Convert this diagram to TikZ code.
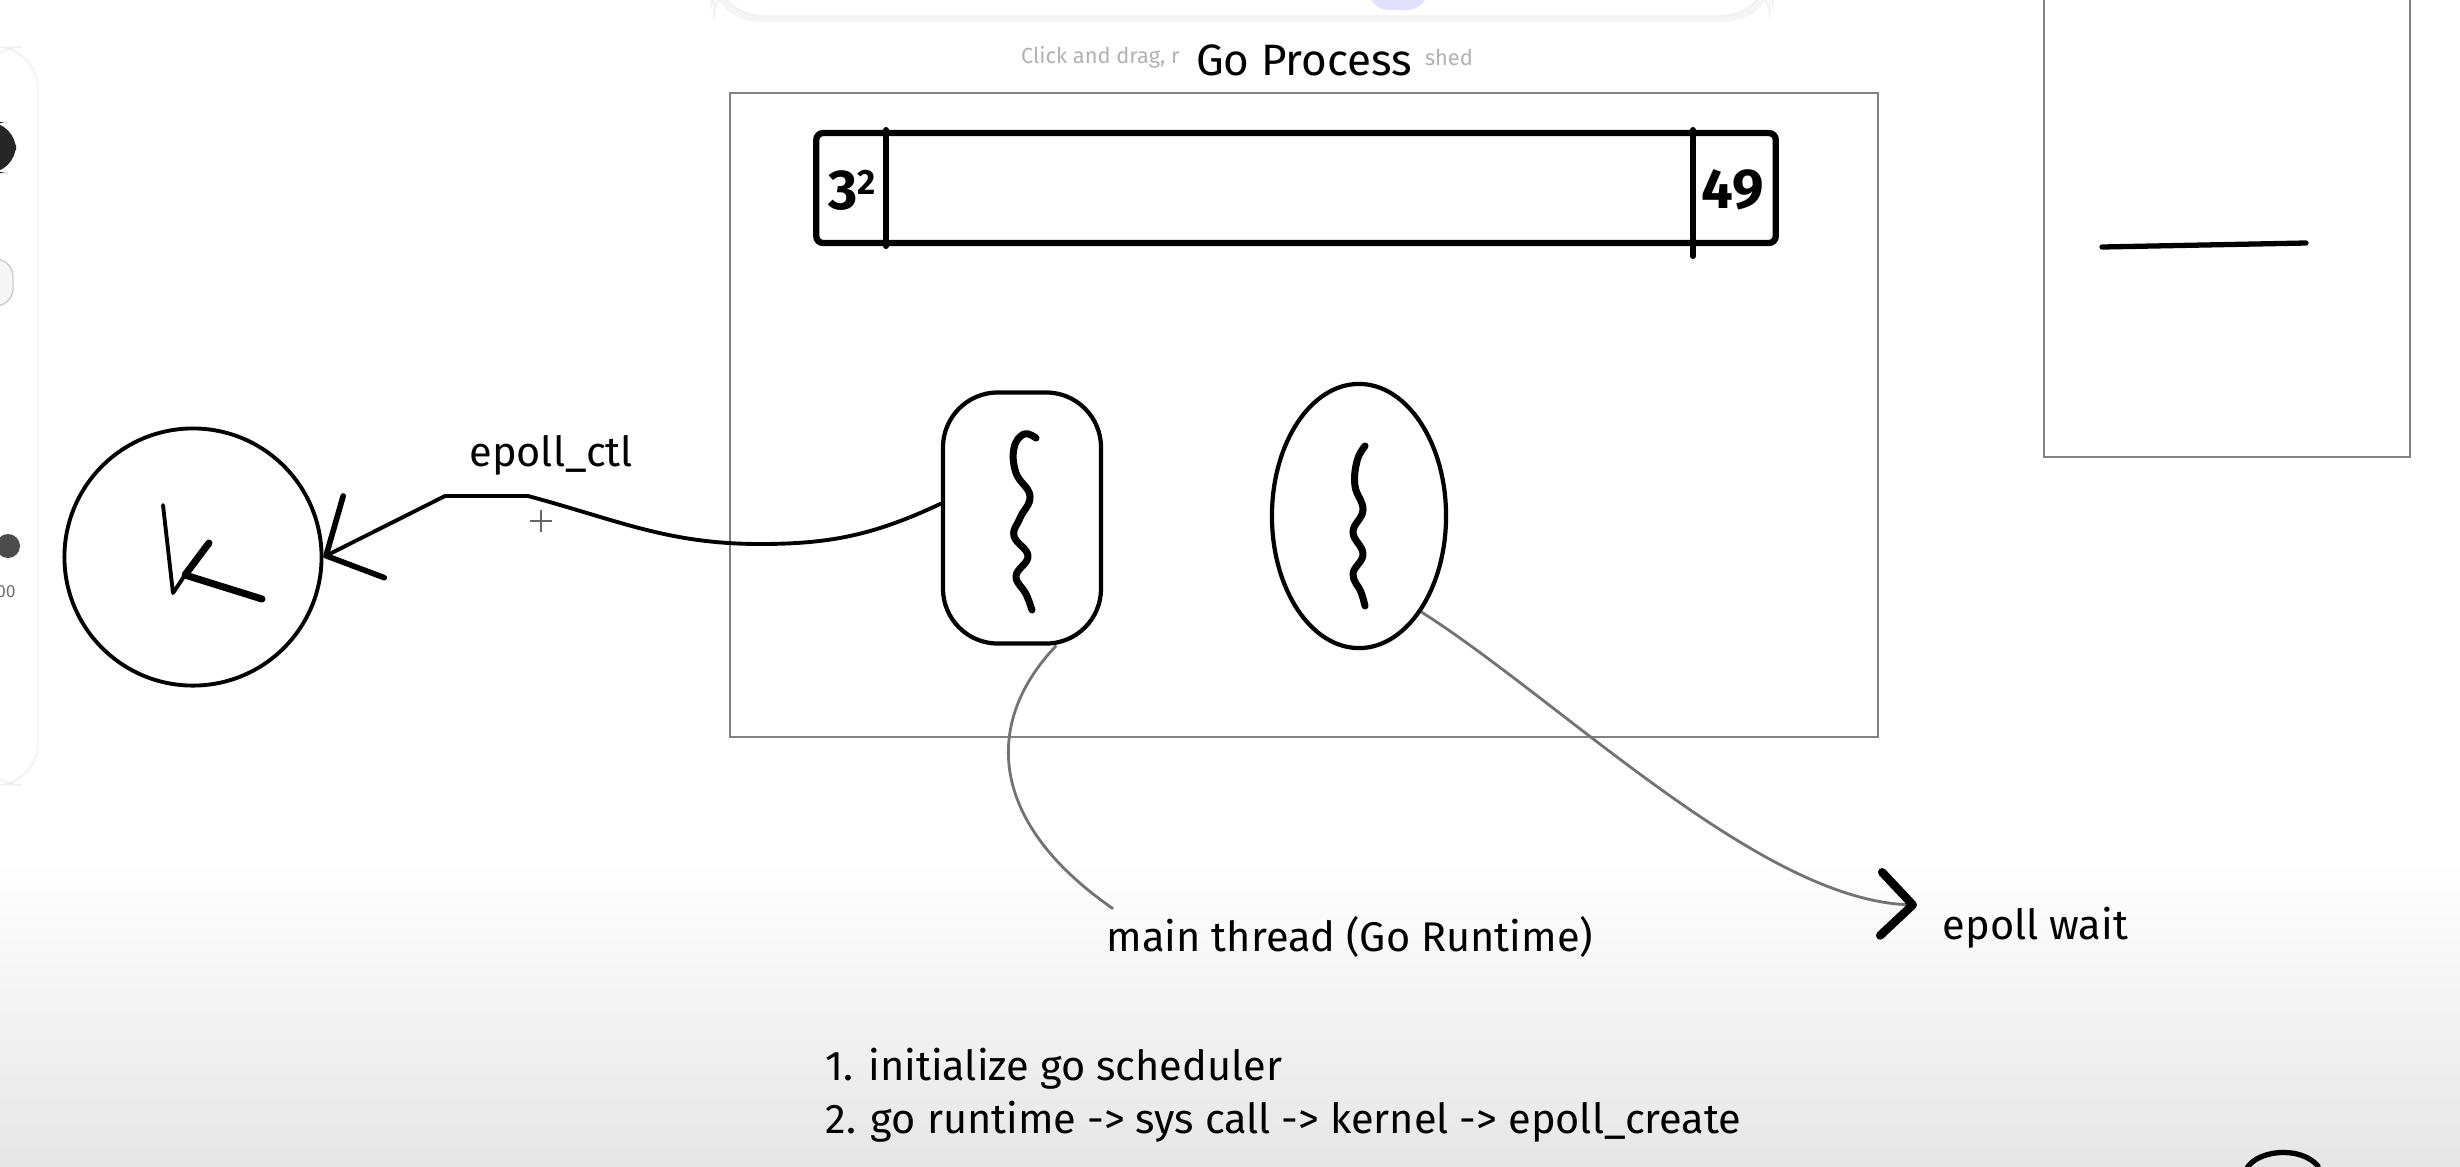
\documentclass[tikz,border=0pt]{standalone}
\usepackage{fontspec}
\setmainfont{Fira Sans}
\usepackage{tikz}
\usetikzlibrary{shapes.geometric,arrows.meta,positioning}
\definecolor{boxgray}{RGB}{130,130,130}
\definecolor{linkgray}{RGB}{115,115,115}
\definecolor{uipurple}{RGB}{226,224,255}
\definecolor{uishade}{RGB}{230,230,230}

\begin{document}
\begin{tikzpicture}[
    x=0.01cm, y=-0.01cm,
    font=\fontsize{11.8}{15}\selectfont,
    frame/.style={rectangle, draw=boxgray, line width=0.6pt, inner sep=0pt},
    thread/.style={draw, line width=1.2pt, inner sep=0pt},
    ink/.style={line width=1.1pt, line cap=round, line join=round},
    line/.style={draw, ink, -{Straight Barb[length=12pt, width=26pt, line width=1.6pt, round]}},
    link/.style={draw=linkgray, line width=0.8pt},
    note/.style={inner sep=2pt},
    hinttext/.style={text=black!30, inner sep=0pt, font=\fontsize{6.2}{7}\selectfont}
]
\useasboundingbox (0,0) rectangle (2460,1166);
\clip (0,0) rectangle (2460,1166);
\fill[white] (0,0) rectangle (2460,1166);
\shade[top color=white, bottom color=uishade] (0,860) rectangle (2460,1166);

% whiteboard chrome
\fill[black!4, rounded corners=14] (710,-30) rectangle (1774,22);
\draw[black!6, fill=white, rounded corners=14] (714,-30) rectangle (1770,16);
\fill[uipurple, rounded corners=6] (1368,-20) rectangle (1428,10);
\draw[black!6, fill=white, rounded corners=12] (-20,47) rectangle (38,785);
\fill[black!85, rounded corners=8] (-20,122) rectangle (16,173);
\draw[black!20, fill=black!4, rounded corners=5] (-20,259) rectangle (13,306);
\fill[black!70] (8,546) circle (12);
\node[text=black!55, font=\fontsize{5}{6}\selectfont] (zoomval) at (6,592) {00};

\node[frame, minimum width=11.47cm, minimum height=6.43cm] (proc) at (1304,415) {};
\node[above=1pt of proc, font=\fontsize{12.5}{15}\selectfont] (title) {Go Process};
\node[hinttext, anchor=east] (hintl) at ([xshift=-1pt,yshift=1pt]title.west) {Click and drag, r};
\node[hinttext, anchor=west] (hintr) at ([xshift=0pt,yshift=1pt]title.east) {shed};

\node[draw, line width=1.8pt, rounded corners=2pt, minimum width=9.59cm, minimum height=1.1cm, inner sep=0pt] (slots) at (1296,188) {};
\draw[ink, line width=1.6pt] ([xshift=0.73cm]slots.north west) -- ([xshift=0.73cm]slots.south west);
\draw[ink, line width=1.6pt] ([xshift=-0.86cm]slots.north east) -- ([xshift=-0.86cm,yshift=-0.1cm]slots.south east);
\node[font=\fontsize{16}{18}\selectfont\bfseries] (lo) at (852,190) {3\raisebox{0.5ex}{\fontsize{10}{10}\selectfont 2}};
\node[font=\fontsize{16}{18}\selectfont\bfseries] (hi) at (1733,190) {49};

\node[thread, rectangle, rounded corners=0.55cm, minimum width=1.58cm, minimum height=2.51cm] (t1) at (1022,518) {};
\node[thread, ellipse, minimum width=1.74cm, minimum height=2.64cm] (t2) at (1359,516) {};
\draw[ink, line width=2pt, shift={(t1.center)}] plot[smooth, tension=0.7] coordinates {(14,-80) (2,-84) (-8,-70) (-6,-45) (8,-22) (-2,0) (-8,18) (6,38) (-6,58) (4,76) (10,92)};
\draw[ink, line width=2pt, shift={(t2.center)}] plot[smooth, tension=0.7] coordinates {(6,-70) (-2,-55) (-4,-30) (4,-6) (-6,16) (4,38) (-6,58) (2,76) (6,90)};

\node[draw, circle, line width=1.1pt, minimum size=2.57cm, inner sep=0pt] (k) at (193,557) {};
\draw[ink, shift={(k.center)}] (-30,-52) -- (-20,36) -- (-8,18);
\draw[ink, line width=2pt, shift={(k.center)}] (16,-14) -- (-8,18) -- (69,42);

\coordinate (ctlB) at (760,544);
\coordinate (ctlA) at (528,496);
\coordinate (ctlC) at (445,496);
\node[note] (ctllbl) at (551,455) {epoll\_ctl};
\draw[black!60, line width=0.4pt] (530,521) -- (552,521) (541,510) -- (541,532);
\path[line] (t1.170) to[out=205,in=0] (ctlB) to[out=180,in=-15] (ctlA) -- (ctlC) -- (k.east);

\node[note] (mainlbl) at (1350,937) {main thread (Go Runtime)};
\path[link] (t1.-75) .. controls (985,720) and (985,820) .. ([xshift=4pt]mainlbl.north west);

\node[note, anchor=west] (waitlbl) at (1935,928) {epoll wait};
\coordinate (waittip) at (1917,905);
\path[link, -{Straight Barb[color=black, length=9pt, width=18pt, line width=2.4pt, round]}] (t2.-57) .. controls (1560,700) and (1760,900) .. (waittip);

\node[note, anchor=west, align=left] (steps) at (818,1095) {1. initialize go scheduler\\2. go runtime -> sys call -> kernel -> epoll\_create};

\node[frame, minimum width=3.66cm, minimum height=4.8cm] (side) at (2227,217) {};
\draw[ink, line width=1.5pt] (2102,247) -- (2306,243);
\draw[ink, line width=1.5pt] (2246,1170) .. controls (2255,1150) and (2300,1145) .. (2318,1166);
\end{tikzpicture}
\end{document}
